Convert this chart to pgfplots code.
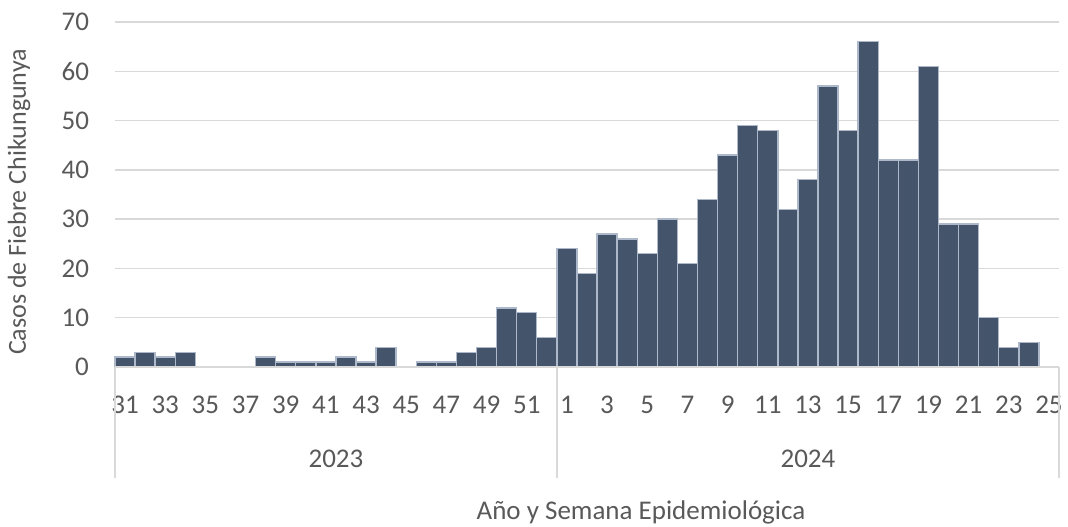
\documentclass[border=0pt]{standalone}
\usepackage{fontspec}
\setmainfont{Carlito}
\usepackage{pgfplots}
\pgfplotsset{compat=1.18}
\definecolor{barfill}{HTML}{44546A}
\definecolor{baredge}{HTML}{ADB9CA}
\definecolor{txt}{HTML}{595959}
\definecolor{gridc}{HTML}{D9D9D9}
\begin{document}
\begin{tikzpicture}[x=1pt,y=1pt]
\begin{axis}[
  at={(57.5pt,79.5pt)}, anchor=south west,
  scale only axis, width=472pt, height=172.5pt,
  xmin=-0.5, xmax=46.5, ymin=0, ymax=70,
  clip=false,
  ytick={0,10,...,70},
  ymajorgrids, major grid style={draw=gridc, line width=0.75pt},
  axis line style={draw=none},
  tick style={draw=none},
  /pgf/number format/assume math mode=true,
  xtick={0,2,...,46},
  xticklabels={31,33,35,37,39,41,43,45,47,49,51,1,3,5,7,9,11,13,15,17,19,21,23,25},
  ticklabel style={font=\fontsize{13.5}{16}\selectfont, text=txt},
  xticklabel style={anchor=base, yshift=-23pt},
  yticklabel style={anchor=east, xshift=-9.5pt},
]
\addplot[ybar, bar width=1, fill=barfill, draw=baredge, line width=0.7pt] coordinates {
(0,2) (1,3) (2,2) (3,3) (7,2) (8,1) (9,1) (10,1) (11,2) (12,1) (13,4)
(15,1) (16,1) (17,3) (18,4) (19,12) (20,11) (21,6)
(22,24) (23,19) (24,27) (25,26) (26,23) (27,30) (28,21) (29,34) (30,43)
(31,49) (32,48) (33,32) (34,38) (35,57) (36,48) (37,66) (38,42) (39,42)
(40,61) (41,29) (42,29) (43,10) (44,4) (45,5)
};
\draw[draw=gridc, line width=0.75pt] (axis cs:-0.5,0) -- ++(0pt,-55.5pt);
\draw[draw=gridc, line width=0.75pt] (axis cs:21.5,0) -- ++(0pt,-55.5pt);
\draw[draw=gridc, line width=0.75pt] (axis cs:46.5,0) -- ++(0pt,-55.5pt);
\draw[draw=gridc, line width=0.75pt] (axis cs:-0.5,0) -- (axis cs:46.5,0);
\node[anchor=base, yshift=-50pt, font=\fontsize{13.5}{16}\selectfont, text=txt] at (axis cs:10.5,0) {2023};
\node[anchor=base, yshift=-50pt, font=\fontsize{13.5}{16}\selectfont, text=txt] at (axis cs:34,0) {2024};
\end{axis}
\node[rotate=90, anchor=base, font=\fontsize{13}{16}\selectfont, text=txt] at (13pt,162pt) {Casos de Fiebre Chikungunya};
\node[anchor=base, font=\fontsize{13.5}{16}\selectfont, text=txt] at (320.5pt,3.5pt) {Año y Semana Epidemiológica};
\pgfresetboundingbox
\useasboundingbox (0,0) rectangle (534pt,263pt);
\end{tikzpicture}
\end{document}
